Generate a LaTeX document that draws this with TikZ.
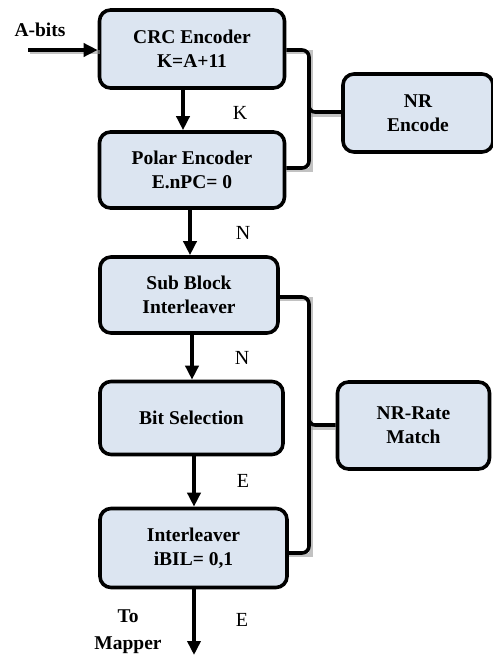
\documentclass[tikz,border=0pt]{standalone}
\usepackage{fontspec}
\setmainfont{Liberation Serif}
\usetikzlibrary{arrows.meta}
\definecolor{boxfill}{HTML}{DCE5F1}
\definecolor{shade}{HTML}{9A9A9A}
\begin{document}
\begin{tikzpicture}[x=1pt,y=-1pt,
  blk/.style={draw=black, line width=3.6pt, rounded corners=11pt, fill=boxfill,
    align=center, font=\fontsize{19.5}{24}\selectfont\bfseries, inner sep=0pt},
  conn/.style={line width=3.6pt, draw=black},
  arr/.style={conn, -{Triangle[length=14pt,width=13pt]}},
  shd/.style={line width=3.6pt, draw=shade, opacity=0.6},
  lbl/.style={font=\fontsize{20}{22}\selectfont},
  blbl/.style={font=\fontsize{19.5}{27}\selectfont\bfseries, align=center}]
\useasboundingbox (0,0) rectangle (492,655);

\node[blk, minimum width=185pt, minimum height=78pt] (crc) at (192,49) {CRC Encoder\\K=A+11};
\node[blk, minimum width=185pt, minimum height=76pt] (polar) at (192,170) {Polar Encoder\\E.nPC= 0};
\node[blk, minimum width=178pt, minimum height=76pt] (sbi) at (189,295) {Sub Block\\Interleaver};
\node[blk, minimum width=183pt, minimum height=73pt] (bits) at (191.5,418) {Bit Selection};
\node[blk, minimum width=187pt, minimum height=79pt] (ilv) at (193.5,548) {Interleaver\\iBIL= 0,1};
\node[blk, minimum width=150pt, minimum height=78pt] (nrenc) at (418,113) {NR\\Encode};
\node[blk, minimum width=152pt, minimum height=87pt] (nrrm) at (413.5,425.5) {NR-Rate\\Match};

% coordinates
\coordinate (ain) at (28,50);
\coordinate (out) at (193,655);

% shadows
\draw[shd] ([shift={(2,2)}]ain) -- ([shift={(2,2)}]crc.west |- ain);
\draw[shd] (crc.east |- 0,52) -- (311,52) -- (311,170) -- (polar.east |- 0,170);
\draw[shd] (sbi.east |- 0,299) -- (311,299) -- (311,555) -- (ilv.east |- 0,555);
\draw[shd] (311,115) -- (nrenc.west |- 0,115);
\draw[shd] (311,428) -- (nrrm.west |- 0,428);

% input arrow
\draw[arr] (ain) -- (crc.west |- ain);
\node[blbl, anchor=base west] (abits) at (11,37) {A-bits};

% vertical arrows
\draw[arr] (crc.south -| 183,0) -- (polar.north -| 183,0);
\node[lbl] (k) at (240,113) {K};
\draw[arr] (polar.south -| 190,0) -- (sbi.north -| 190,0);
\node[lbl] (n1) at (243,233) {N};
\draw[arr] (sbi.south -| 192,0) -- (bits.north -| 192,0);
\node[lbl] (n2) at (242,358) {N};
\draw[arr] (bits.south -| 194,0) -- (ilv.north -| 194,0);
\node[lbl] (e1) at (243,481) {E};
\draw[arr] (ilv.south -| 194,0) -- (out -| 194,0);
\node[lbl] (e2) at (242,620) {E};
\node[blbl] (tomap) at (128,632) {To\\Mapper};

% brackets
\draw[conn, rounded corners=7pt] (crc.east |- 0,50) -- (309,50) -- (309,168) -- (polar.east |- 0,168);
\draw[conn, rounded corners=6pt] (309,95) -- (309,112) -- (nrenc.west |- 0,112);
\draw[conn, rounded corners=7pt] (sbi.east |- 0,297) -- (309,297) -- (309,553) -- (ilv.east |- 0,553);
\draw[conn, rounded corners=6pt] (309,410) -- (309,425) -- (nrrm.west |- 0,425);
\end{tikzpicture}
\end{document}
